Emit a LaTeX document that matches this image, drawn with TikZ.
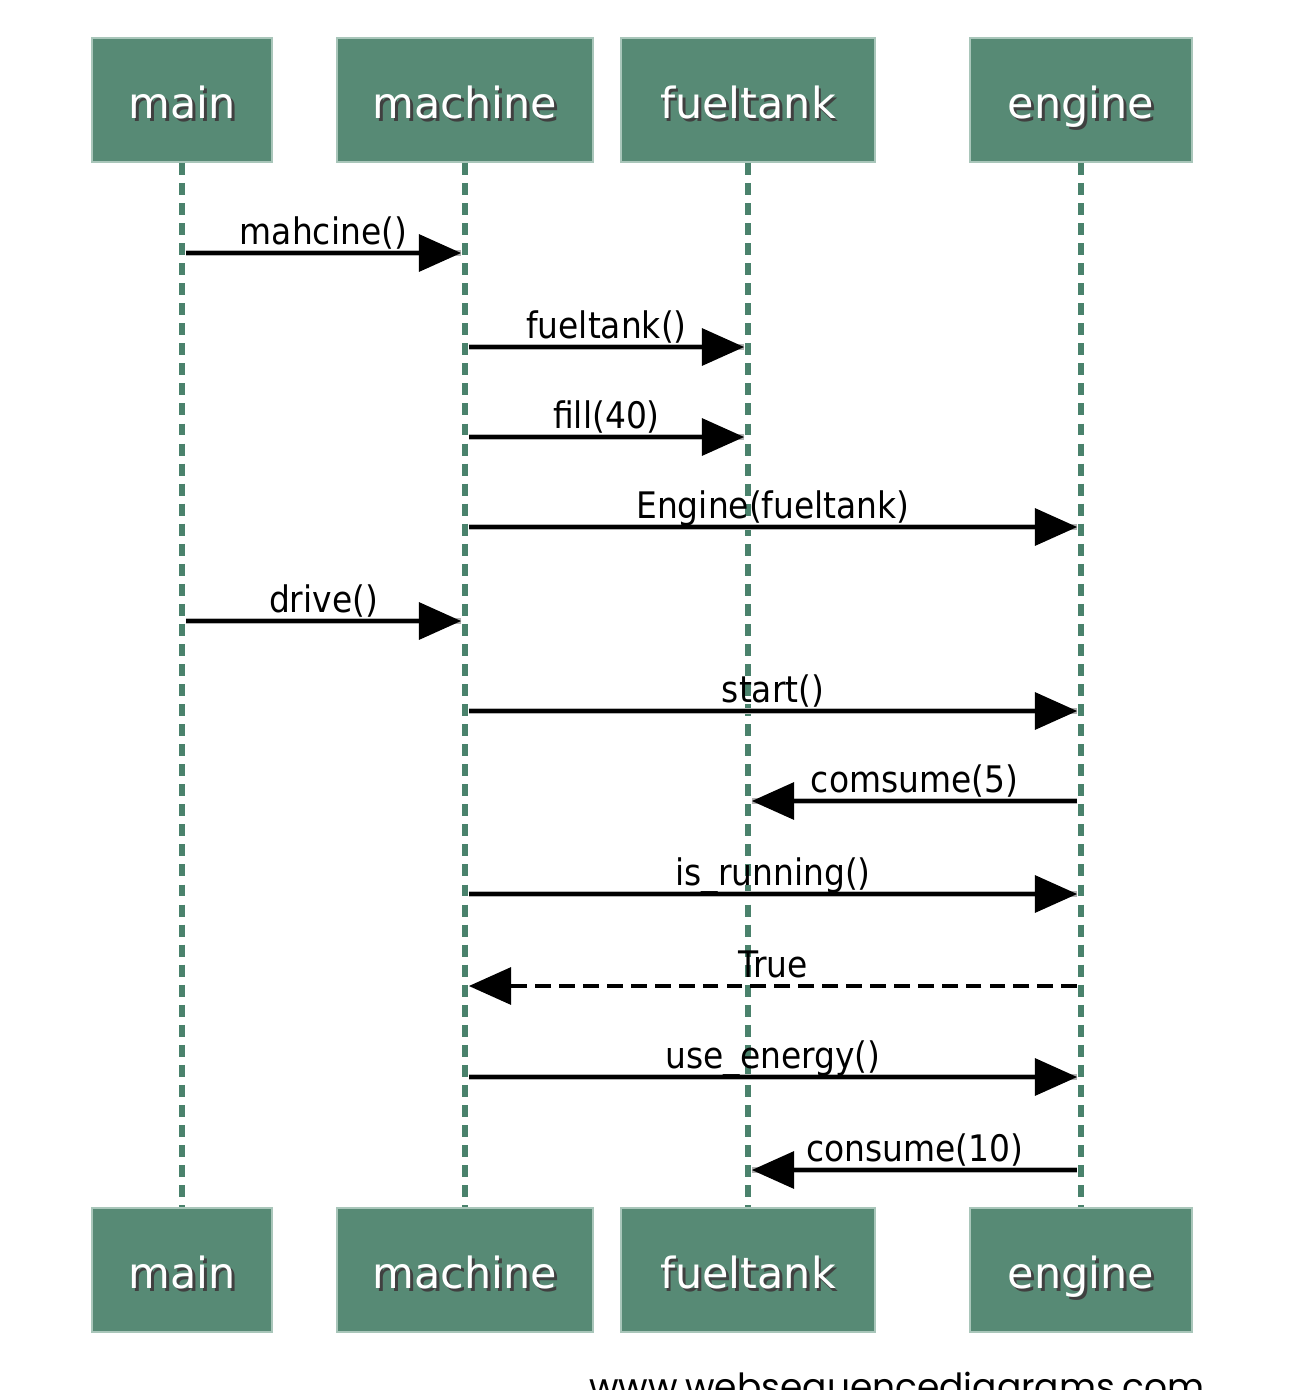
\documentclass[tikz,border=0pt]{standalone}
\usepackage{fontspec}
\setmainfont{DejaVu Sans}
\newfontfamily\msgfont{DejaVu Sans Condensed}
\newfontfamily\urlfont{Poppins}
\usetikzlibrary{arrows.meta}
\definecolor{actorfill}{HTML}{578A75}
\definecolor{actoredge}{HTML}{A9C6BA}
\definecolor{lifecol}{HTML}{4A826C}
\newcommand\shadowed[1]{\rlap{\hspace{0.8pt}\raisebox{-0.8pt}{\color{black!75}#1}}#1}
\tikzset{
  actor/.style={draw=actoredge, line width=0.5pt, fill=actorfill, text=white,
    minimum height=12.4mm, inner sep=0pt, text height=10.4pt, text depth=0pt,
    font=\fontsize{12.2}{14}\selectfont},
  lifeline/.style={draw=lifecol, line width=1.7pt, dash pattern=on 3.4pt off 2.3pt},
  arrowbase/.style={draw=black, line width=1pt, -{Triangle[length=12pt,width=10.5pt]},
    shorten <=1.1pt, shorten >=1.1pt},
  msg/.style={arrowbase, preaction={draw=black!30, line width=1.5pt, -}},
  reply/.style={arrowbase, dash pattern=on 4.5pt off 2.3pt},
  msglabel/.style={anchor=base, yshift=2.3pt, inner sep=0pt,
    font=\msgfont\fontsize{10.4}{12}\selectfont}
}
\begin{document}
\begin{tikzpicture}[x=0.01cm, y=-0.01cm]
\useasboundingbox (0,0) rectangle (1290,1390);
\clip (0,0) rectangle (1290,1390);
\fill[white] (0,0) rectangle (1290,1390);

% participants, top row
\node[actor, minimum width=18mm]   (mainT) at (182,100)  {\shadowed{main}};
\node[actor, minimum width=25.6mm] (machT) at (465,100)  {\shadowed{machine}};
\node[actor, minimum width=25.4mm] (fuelT) at (748,100)  {\shadowed{fueltank}};
\node[actor, minimum width=22.2mm] (engT)  at (1081,100) {\shadowed{engine}};

% participants, bottom row
\node[actor, minimum width=18mm]   (mainB) at (182,1270)  {\shadowed{main}};
\node[actor, minimum width=25.6mm] (machB) at (465,1270)  {\shadowed{machine}};
\node[actor, minimum width=25.4mm] (fuelB) at (748,1270)  {\shadowed{fueltank}};
\node[actor, minimum width=22.2mm] (engB)  at (1081,1270) {\shadowed{engine}};

% lifelines
\draw[lifeline] (mainT.south) -- (mainB.north);
\draw[lifeline] (machT.south) -- (machB.north);
\draw[lifeline] (fuelT.south) -- (fuelB.north);
\draw[lifeline] (engT.south)  -- (engB.north);

% messages
\draw[msg] (mainT |- 0,253) -- node[msglabel]{mahcine()} (machT |- 0,253);
\draw[msg] (machT |- 0,347) -- node[msglabel]{fueltank()} (fuelT |- 0,347);
\draw[msg] (machT |- 0,437) -- node[msglabel]{fill(40)} (fuelT |- 0,437);
\draw[msg] (machT |- 0,527) -- node[msglabel]{Engine(fueltank)} (engT |- 0,527);
\draw[msg] (mainT |- 0,621) -- node[msglabel]{drive()} (machT |- 0,621);
\draw[msg] (machT |- 0,711) -- node[msglabel]{start()} (engT |- 0,711);
\draw[msg] (engT |- 0,801) -- node[msglabel]{comsume(5)} (fuelT |- 0,801);
\draw[msg] (machT |- 0,894) -- node[msglabel]{is\_running()} (engT |- 0,894);
\draw[reply] (engT |- 0,986) -- node[msglabel]{True} (machT |- 0,986);
\draw[msg] (machT |- 0,1077) -- node[msglabel]{use\_energy()} (engT |- 0,1077);
\draw[msg] (engT |- 0,1170) -- node[msglabel]{consume(10)} (fuelT |- 0,1170);

% footer
\node[anchor=north, inner sep=0pt] (url) at (897,1371)
  {\resizebox{61.5mm}{!}{\urlfont www.websequencediagrams.com}};
\end{tikzpicture}
\end{document}
